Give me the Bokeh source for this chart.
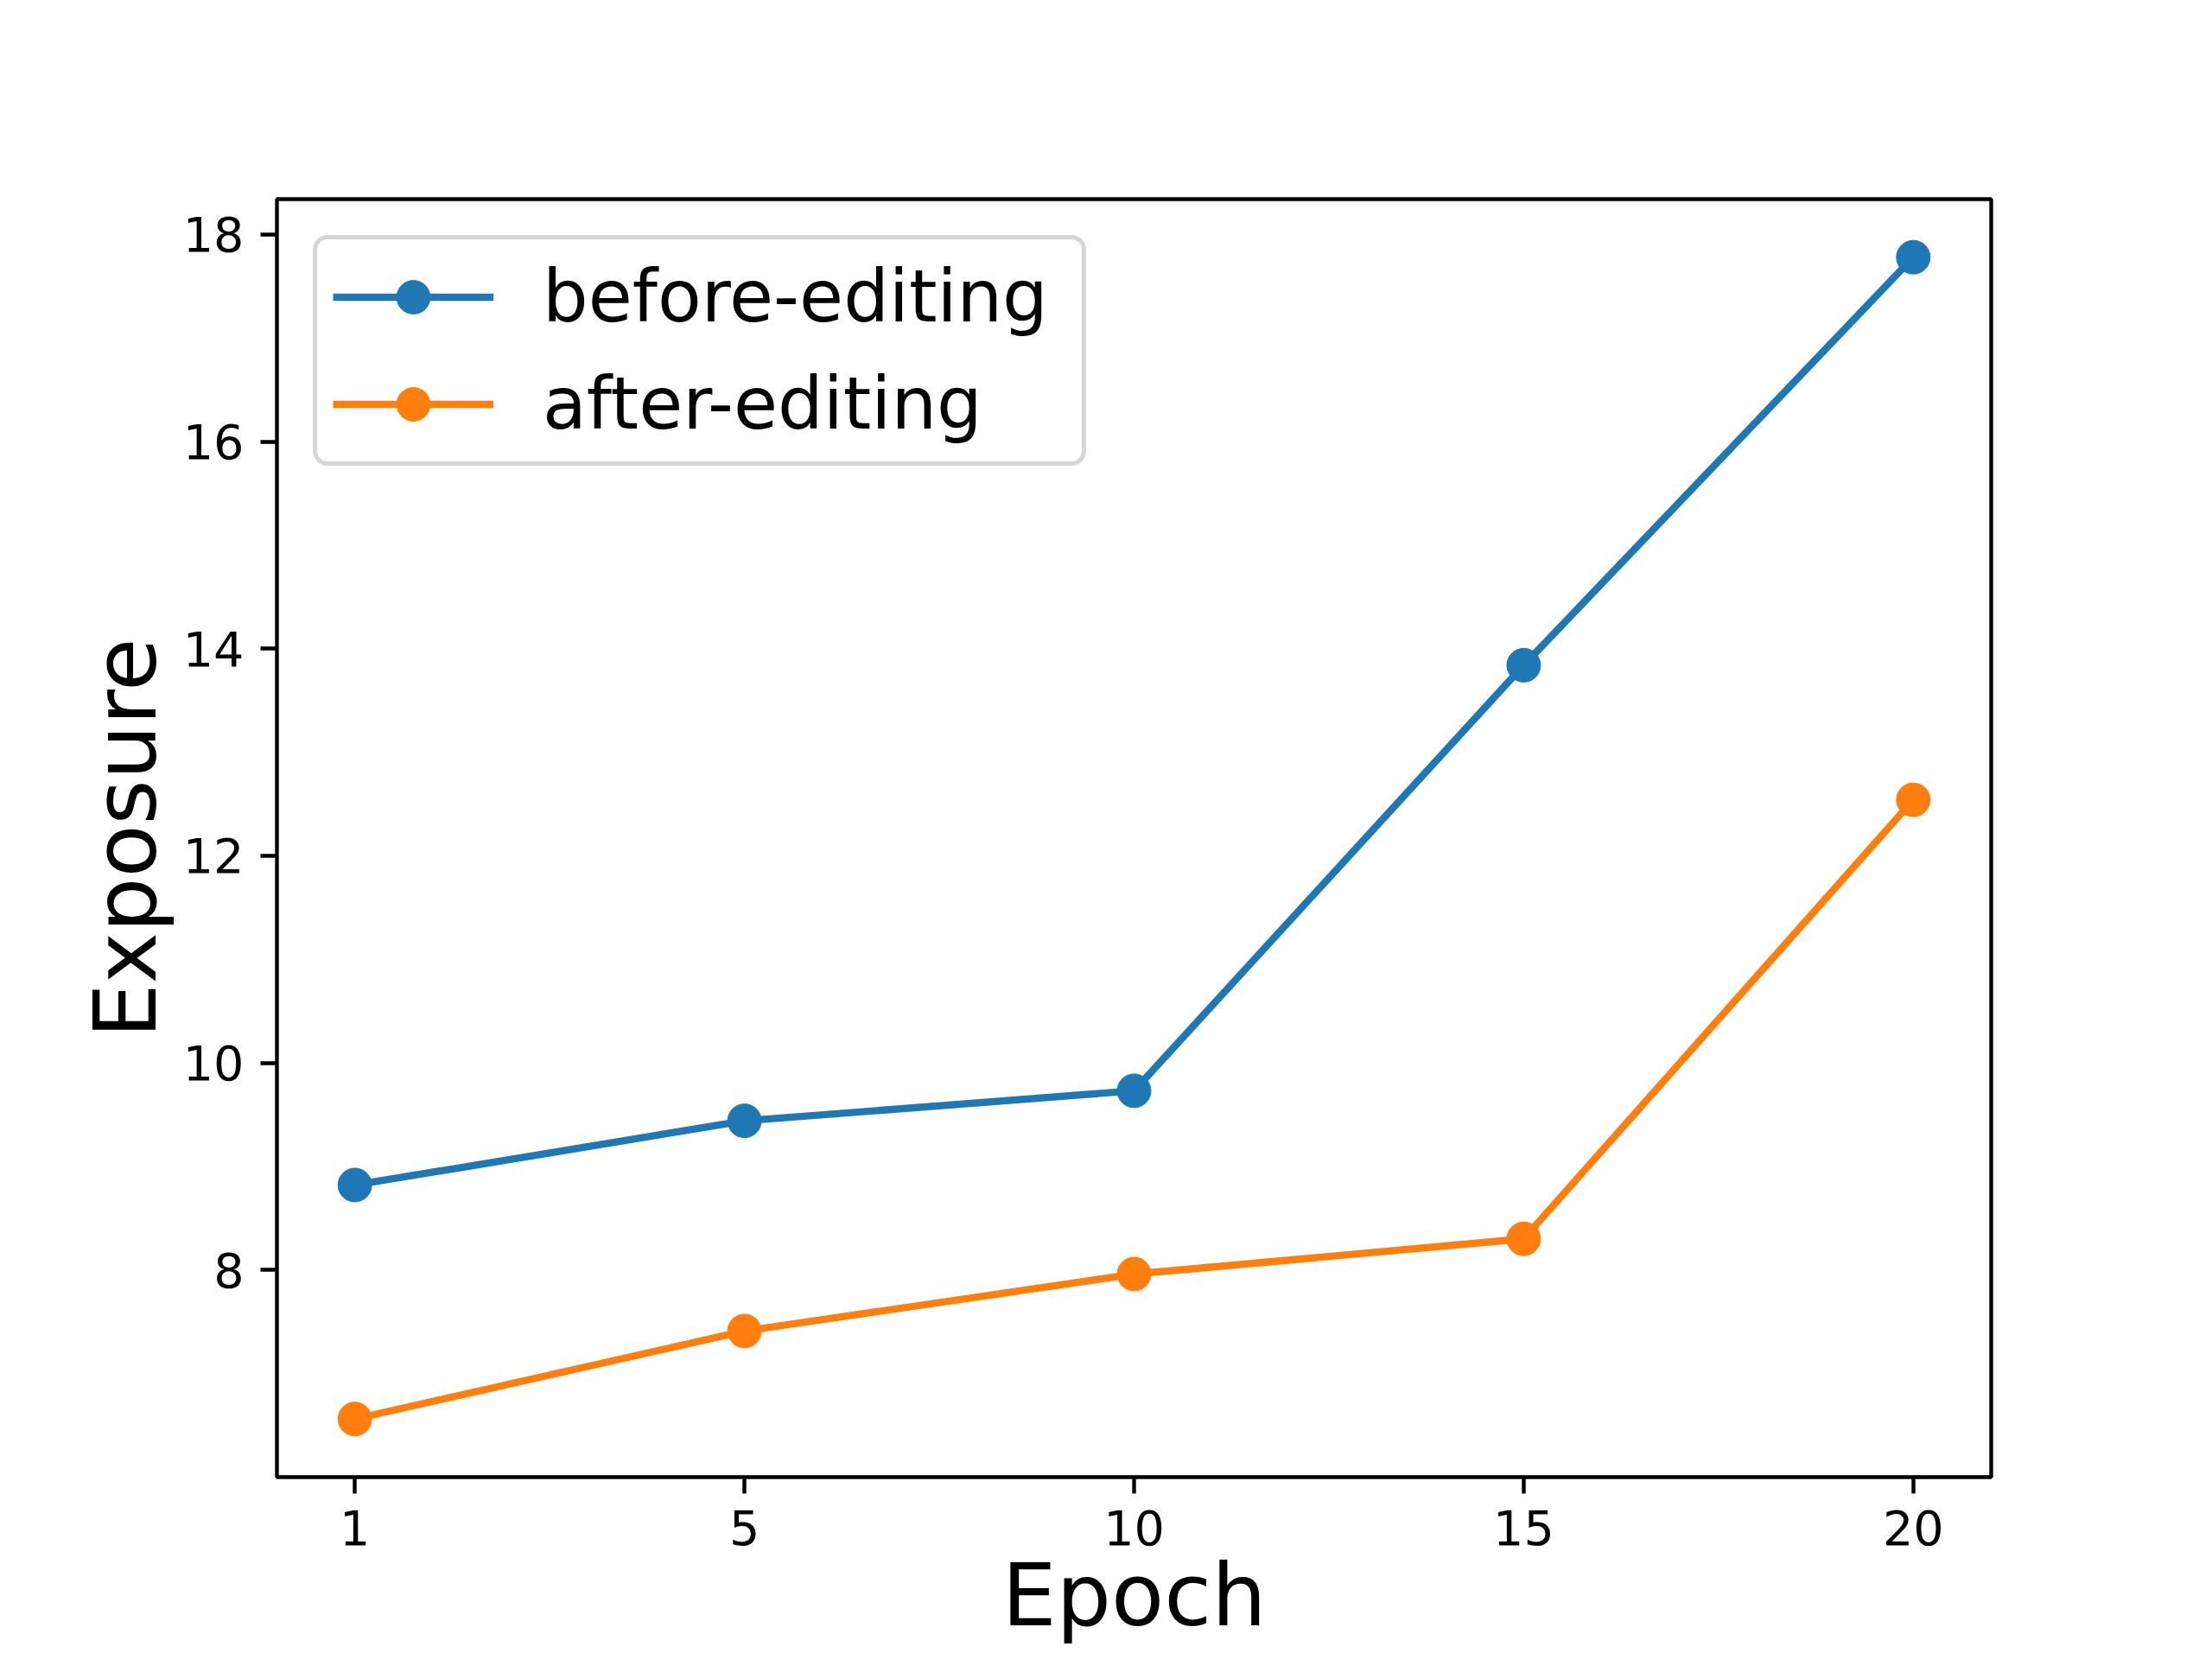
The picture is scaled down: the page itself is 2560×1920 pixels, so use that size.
from bokeh.plotting import figure
from bokeh.models import Range1d, FixedTicker, Legend, LegendItem, Title
from bokeh.embed import file_html
from bokeh.resources import INLINE

# ---- data ----
epochs = [1, 5, 10, 15, 20]
before_editing = [8.82, 9.44, 9.73, 13.84, 17.78]
after_editing = [6.56, 7.41, 7.96, 8.30, 12.54]
y_ticks = [8, 10, 12, 14, 16, 18]
series_names = ["before-editing", "after-editing"]
series_colors = ["#1f77b4", "#ff7f0e"]
x_title = "Epoch"
y_title = "Exposure"

idx = list(range(len(epochs)))
all_vals = before_editing + after_editing
ymin, ymax = min(all_vals), max(all_vals)
ypad = 0.05 * (ymax - ymin)
xpad = 0.05 * (idx[-1] - idx[0])

FONT = "DejaVu Sans"
TITLE_SIZE = "75pt"   # = 100px (written in pt so it is not read as a font weight)

p = figure(width=2544, height=1904, output_backend="svg", toolbar_location=None,
           x_range=Range1d(idx[0] - xpad, idx[-1] + xpad),
           y_range=Range1d(ymin - ypad, ymax + ypad),
           min_border_left=320, min_border_right=240,
           min_border_top=230, min_border_bottom=195)

p.background_fill_color = "white"
p.border_fill_color = "white"
p.outline_line_color = "black"
p.outline_line_width = 4.4
p.grid.visible = False

for ax in (p.xaxis[0], p.yaxis[0]):
    ax.axis_line_color = None
    ax.major_tick_line_color = "black"
    ax.major_tick_line_width = 4.4
    ax.major_tick_out = 19
    ax.major_tick_in = 0
    ax.minor_tick_line_color = None
    ax.major_label_standoff = 19
    ax.major_label_text_font = FONT
    ax.major_label_text_font_size = "55.6px"
    ax.major_label_text_color = "black"
    ax.axis_label_text_font = FONT
    ax.axis_label_text_font_size = TITLE_SIZE
    ax.axis_label_text_font_style = "normal"
    ax.axis_label_text_color = "black"

p.xaxis.ticker = FixedTicker(ticks=idx)
p.xaxis.major_label_overrides = {i: str(e) for i, e in zip(idx, epochs)}
p.yaxis.ticker = FixedTicker(ticks=y_ticks)

p.yaxis.axis_label = y_title
p.yaxis.axis_label_standoff = 5

# x-axis title as a below-panel Title so it can sit low, partly past the edge like the original
xt = Title(text=x_title, align="center", vertical_align="bottom",
           text_font=FONT, text_font_size=TITLE_SIZE, text_font_style="normal",
           text_color="black", standoff=-10)
p.add_layout(xt, "below")

items = []
for name, vals, col in zip(series_names, [before_editing, after_editing], series_colors):
    l = p.line(idx, vals, line_color=col, line_width=8.33)
    s = p.scatter(idx, vals, size=39, marker="circle", fill_color=col, line_color=col)
    items.append(LegendItem(label=name, renderers=[l, s]))

legend = Legend(items=items, location="top_left",
                label_text_font=FONT, label_text_font_size="83px",
                label_text_color="black",
                glyph_width=186, glyph_height=97, label_standoff=57,
                label_width=606,
                padding=18, spacing=27, margin=42,
                border_line_color="#cccccc", border_line_alpha=0.8,
                border_line_width=5.6, background_fill_alpha=0.8,
                border_radius=17)
p.add_layout(legend)

open("out.html", "w").write(file_html(p, INLINE))
